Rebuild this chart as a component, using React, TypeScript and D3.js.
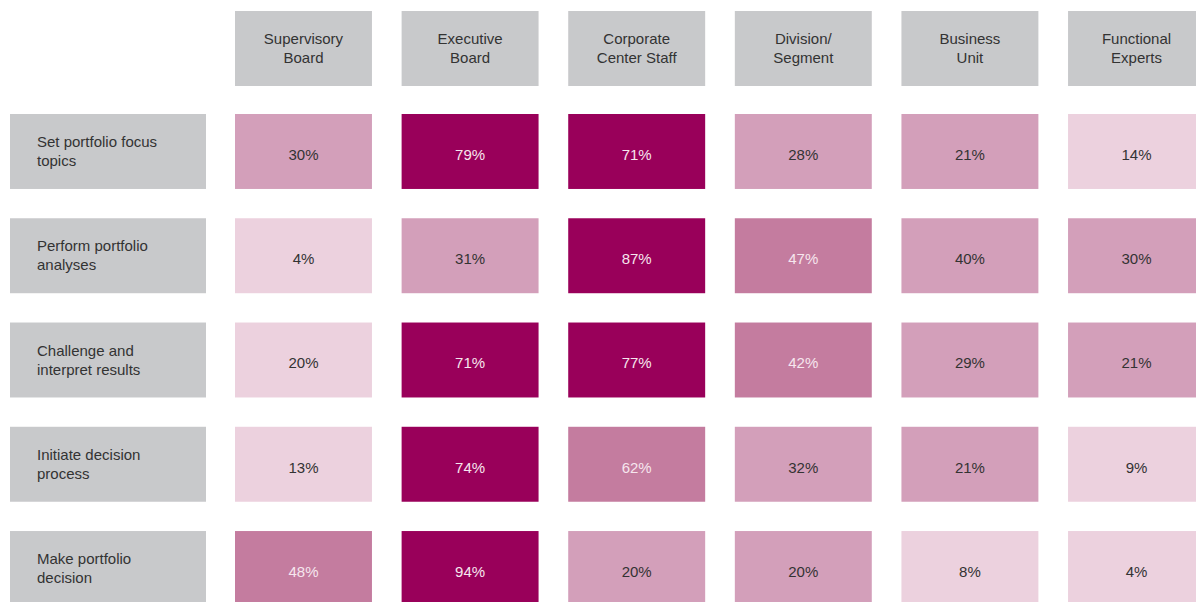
import React from "react";
import * as d3 from "d3";

const columns = [
  "Supervisory\nBoard",
  "Executive\nBoard",
  "Corporate\nCenter Staff",
  "Division/\nSegment",
  "Business\nUnit",
  "Functional\nExperts",
];

const activities = [
  "Set portfolio focus\ntopics",
  "Perform portfolio\nanalyses",
  "Challenge and\ninterpret results",
  "Initiate decision\nprocess",
  "Make portfolio\ndecision",
];

// share of respondents, row by row
const values = [
  [30, 79, 71, 28, 21, 14],
  [4, 31, 87, 47, 40, 30],
  [20, 71, 77, 42, 29, 21],
  [13, 74, 62, 32, 21, 9],
  [48, 94, 20, 20, 8, 4],
];

// shading tier as printed (0 = lightest, 3 = darkest)
const tiers = [
  [1, 3, 3, 1, 1, 0],
  [0, 1, 3, 2, 1, 1],
  [0, 3, 3, 2, 1, 1],
  [0, 3, 2, 1, 1, 0],
  [2, 3, 1, 1, 0, 0],
];

const tierColors = ["#ecd1de", "#d39fba", "#c47c9f", "#99005a"];
const tierText = ["#333333", "#333333", "#f6e6ee", "#f6e6ee"];

const W = 1196;
const H = 602;
const font = "'Liberation Sans', Arial, sans-serif";

const App = () => {
  const x = d3.scaleBand().domain(columns).range([235, 1205]).paddingInner(0.178);
  const y = d3.scaleBand().domain(activities).range([114, 606]).paddingInner(0.281);
  const color = d3.scaleOrdinal<number, string>().domain([0, 1, 2, 3]).range(tierColors);
  const textColor = d3.scaleOrdinal<number, string>().domain([0, 1, 2, 3]).range(tierText);

  const header = { top: 11, height: 75 };
  const label = { left: 10, width: 196, textX: 37 };

  return (
    <svg
      width={W}
      height={H}
      style={{ position: "absolute", left: 0, top: 0, background: "#fff" }}
      fontFamily={font}
    >
      {columns.map((c) => {
        const lines = c.split("\n");
        const cx = x(c)! + x.bandwidth() / 2;
        const cy = header.top + header.height / 2;
        return (
          <g key={c}>
            <rect x={x(c)} y={header.top} width={x.bandwidth()} height={header.height} fill="#c8c9cb" />
            {lines.map((l, i) => (
              <text
                key={i}
                x={cx}
                y={cy + (i - (lines.length - 1) / 2) * 19}
                dy="0.35em"
                textAnchor="middle"
                fontSize={15}
                fill="#333"
              >
                {l}
              </text>
            ))}
          </g>
        );
      })}

      {activities.map((a, r) => {
        const lines = a.split("\n");
        const cy = y(a)! + y.bandwidth() / 2;
        return (
          <g key={a}>
            <rect x={label.left} y={y(a)} width={label.width} height={y.bandwidth()} fill="#c8c9cb" />
            {lines.map((l, i) => (
              <text
                key={i}
                x={label.textX}
                y={cy + (i - (lines.length - 1) / 2) * 19}
                dy="0.35em"
                fontSize={15}
                fill="#333"
              >
                {l}
              </text>
            ))}
            {columns.map((c, k) => (
              <g key={c}>
                <rect
                  x={x(c)}
                  y={y(a)}
                  width={x.bandwidth()}
                  height={y.bandwidth()}
                  fill={color(tiers[r][k])}
                />
                <text
                  x={x(c)! + x.bandwidth() / 2}
                  y={cy + 3}
                  dy="0.35em"
                  textAnchor="middle"
                  fontSize={15}
                  fill={textColor(tiers[r][k])}
                >
                  {values[r][k]}%
                </text>
              </g>
            ))}
          </g>
        );
      })}
    </svg>
  );
};

export default App;
